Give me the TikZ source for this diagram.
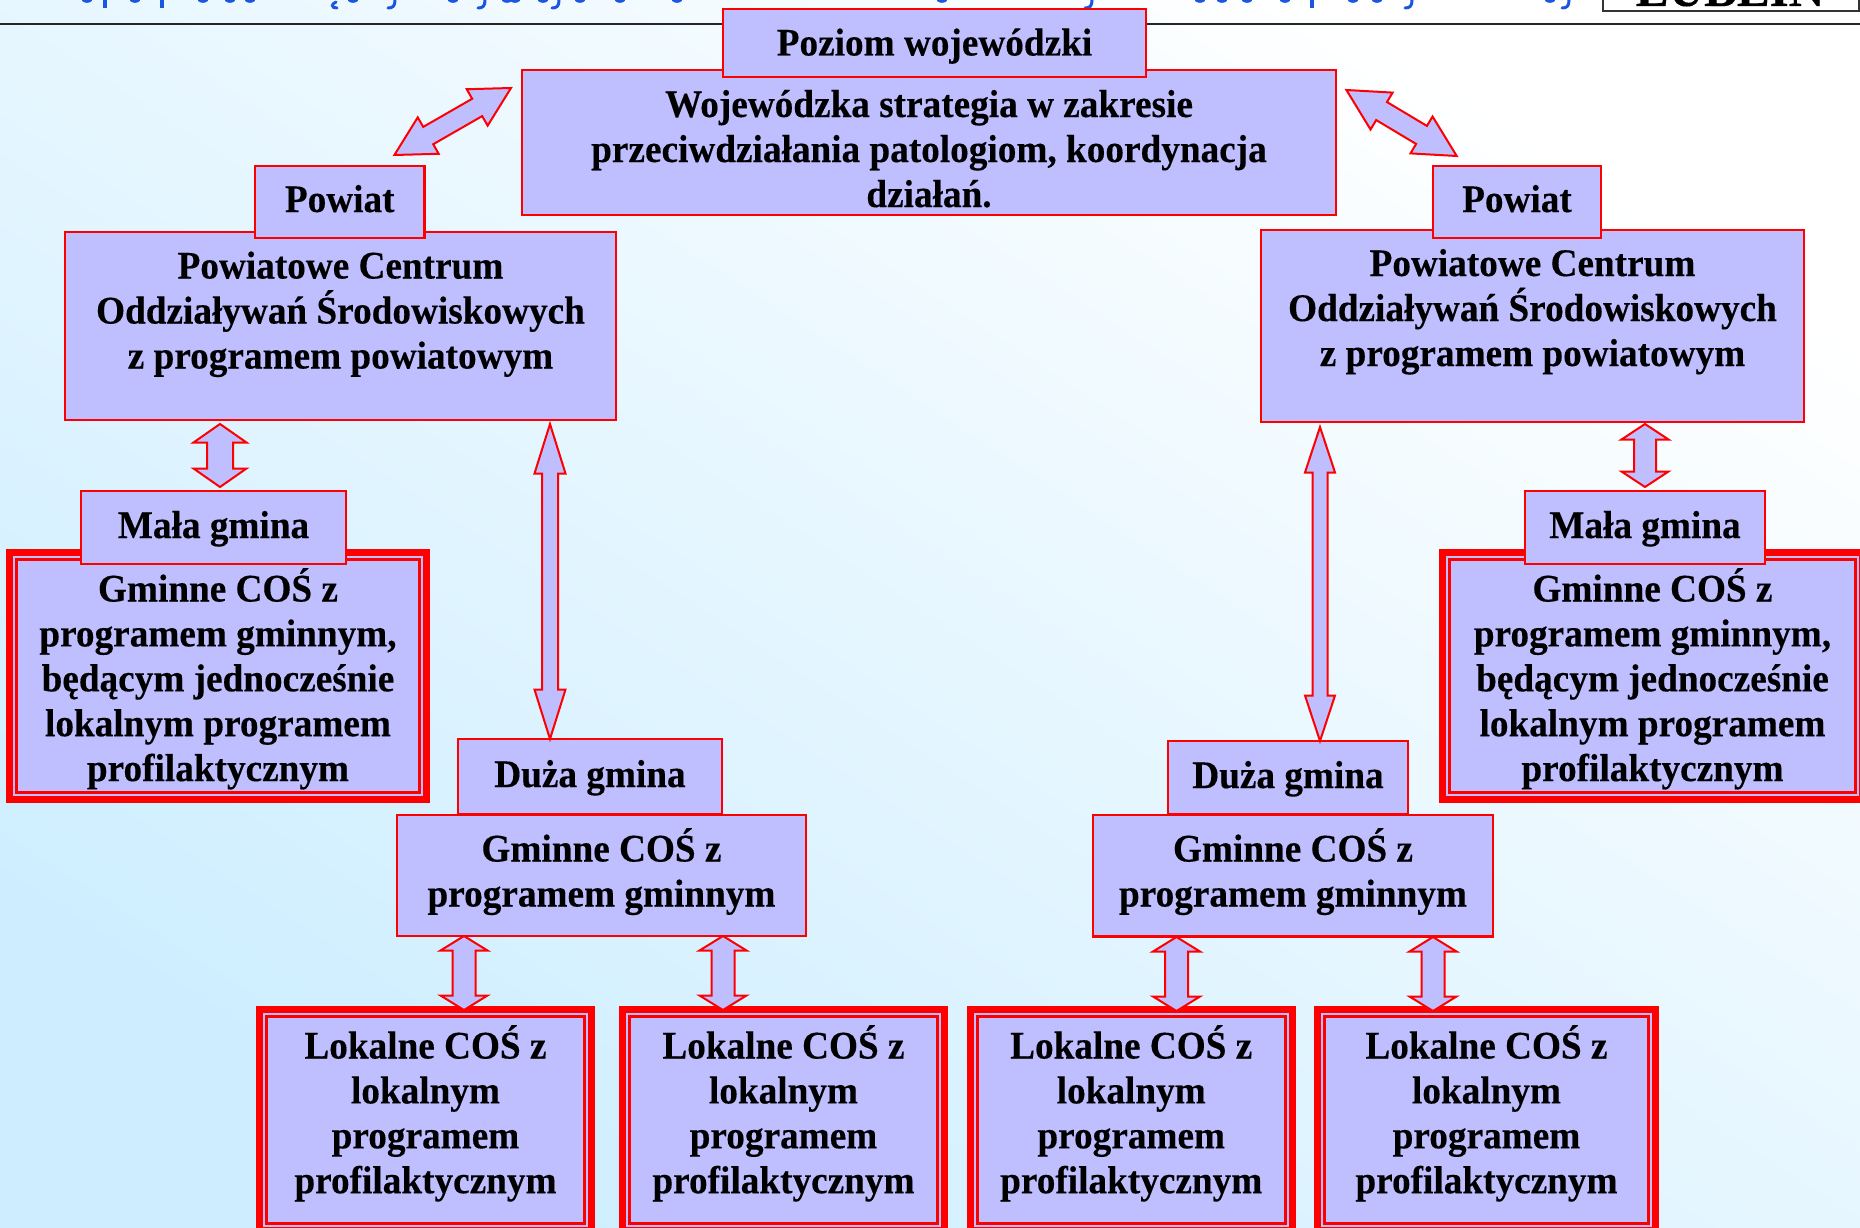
\documentclass[tikz,border=0pt]{standalone}
\usepackage{fontspec}
\setmainfont[FakeStretch=0.955,BoldFeatures={FakeBold=0.25}]{Liberation Serif}
\usetikzlibrary{calc}
\definecolor{lav}{HTML}{BFBEFF}
\definecolor{bgblue}{HTML}{CEEEFF}
\definecolor{headblue}{HTML}{1A56E0}
\tikzset{
  plainbox/.style={draw=red,fill=lav,line width=2.4pt,inner sep=0pt,outer sep=0pt},
  thickbox/.style={draw=red,fill=lav,line width=7pt,inner sep=0pt,outer sep=0pt},
  thinframe/.style={draw=red,line width=2.6pt},
  blockarr/.style={draw=red,fill=lav,line width=2pt,line join=miter},
  descender/.style={draw=headblue,line width=2.6pt,line cap=round},
  stemline/.style={draw=headblue,line width=3.6pt},
  hook/.style={draw=headblue,line width=3pt,line cap=round}
}
% name, x1, y1, x2, y2, first baseline, text
\newcommand\tbox[7]{%
  \pgfmathsetmacro{\bw}{#4-#2}\pgfmathsetmacro{\bh}{#5-#3}\pgfmathsetmacro{\bd}{#6-#3}%
  \node[plainbox,minimum width=\bw pt,minimum height=\bh pt] (#1) at ({(#2+#4)/2},{(#3+#5)/2})
    {\parbox[c][\bh pt][t]{\bw pt}{\fontsize{39}{45}\selectfont\bfseries\lineskiplimit=-100pt\centering\rule{0pt}{\bd pt}#7}};}
% name, outer x1, y1, x2, y2, first baseline, text
\newcommand\dbox[7]{%
  \pgfmathsetmacro{\bw}{#4-#2-7}\pgfmathsetmacro{\bh}{#5-#3-7}\pgfmathsetmacro{\bd}{#6-#3-3.5}%
  \node[thickbox,minimum width=\bw pt,minimum height=\bh pt] (#1) at ({(#2+#4)/2},{(#3+#5)/2})
    {\parbox[c][\bh pt][t]{\bw pt}{\fontsize{39}{44.9}\selectfont\bfseries\lineskiplimit=-100pt\centering\rule{0pt}{\bd pt}#7}};
  \draw[thinframe] ([xshift=7.2pt,yshift=-7.2pt]#1.north west) rectangle ([xshift=-7.2pt,yshift=7.2pt]#1.south east);}
% from, to, head length, head half width, shaft half width
\newcommand\blockarrow[5]{%
  \draw[blockarr] (#1)
    -- ($($(#1)!#3pt!(#2)$)!#4pt!90:(#2)$)
    -- ($($(#1)!#3pt!(#2)$)!#5pt!90:(#2)$)
    -- ($($(#2)!#3pt!(#1)$)!-#5pt!90:(#1)$)
    -- ($($(#2)!#3pt!(#1)$)!-#4pt!90:(#1)$)
    -- (#2)
    -- ($($(#2)!#3pt!(#1)$)!#4pt!90:(#1)$)
    -- ($($(#2)!#3pt!(#1)$)!#5pt!90:(#1)$)
    -- ($($(#1)!#3pt!(#2)$)!-#5pt!90:(#2)$)
    -- ($($(#1)!#3pt!(#2)$)!-#4pt!90:(#2)$)
    -- cycle;}
\begin{document}
\begin{tikzpicture}[x=1pt,y=-1pt]
\useasboundingbox (0,0) rectangle (1860,1228);
\clip (0,0) rectangle (1860,1228);
% background
\shade[bottom color=bgblue,top color=white,shading angle=-33] (0,0) rectangle (1860,1228);
% cropped heading
\foreach \px in {87,135,203,230,250,353,453,507,515,543,580,620,677,942,1200,1222,1247,1285,1353,1377,1550}
  \draw[descender] (\px-4,0) .. controls (\px-2,2) and (\px+2,2) .. (\px+4,0);
\foreach \px in {105,162,1312}
  \draw[stemline] (\px,0) -- (\px,8);
\foreach \px in {393,483,557,1090,1410,1567}
  \draw[hook] (\px+2,0) .. controls (\px+2,6) and (\px,8) .. (\px-5,8);
\draw[hook] (336,2) .. controls (331,4) and (331,8) .. (337,8);
\draw[draw=black!85,line width=2.4pt] (0,24) -- (1860,24);
\node[draw=black!80,fill=white,line width=1.6pt,minimum width=256pt,minimum height=30pt,inner sep=0pt,outer sep=0pt] (lubbox) at (1731,-4) {};
\node[anchor=base,inner sep=0pt,font=\fontsize{51.5}{53}\selectfont\bfseries] (lublin) at (1730,6) {LUBLIN};
% top
\tbox{woj}{522}{70}{1336}{215}{117}{Wojewódzka strategia w zakresie\\przeciwdziałania patologiom, koordynacja\\działań.}
\tbox{poz}{723}{9}{1146}{77}{55.5}{Poziom wojewódzki}
% powiat
\tbox{pcl}{65}{232}{616}{420}{278.5}{Powiatowe Centrum\\Oddziaływań Środowiskowych\\z programem powiatowym}
\tbox{powl}{255}{166}{424.5}{238}{212}{Powiat}
\tbox{pcr}{1261}{230}{1804}{422}{276}{Powiatowe Centrum\\Oddziaływań Środowiskowych\\z programem powiatowym}
\tbox{powr}{1433}{166}{1601}{238}{212}{Powiat}
% small communes
\dbox{gml}{6}{549}{430}{803}{601.5}{Gminne COŚ z\\programem gminnym,\\będącym jednocześnie\\lokalnym programem\\profilaktycznym}
\tbox{mgl}{81}{491}{346}{564}{538}{Mała gmina}
\dbox{gmr}{1439}{549}{1866}{803}{601.5}{Gminne COŚ z\\programem gminnym,\\będącym jednocześnie\\lokalnym programem\\profilaktycznym}
\tbox{mgr}{1525}{491}{1765}{564}{538}{Mała gmina}
% big communes
\tbox{dgl}{458}{739}{722}{814}{787}{Duża gmina}
\tbox{ggl}{397}{815}{806}{936}{861.5}{Gminne COŚ z\\programem gminnym}
\tbox{dgr}{1168}{741}{1408}{814}{788}{Duża gmina}
\tbox{ggr}{1093}{815}{1493}{936.5}{861.5}{Gminne COŚ z\\programem gminnym}
% local
\dbox{la}{256}{1006}{595}{1234}{1058.5}{Lokalne COŚ z\\lokalnym\\programem\\profilaktycznym}
\dbox{lb}{619}{1006}{948}{1234}{1058.5}{Lokalne COŚ z\\lokalnym\\programem\\profilaktycznym}
\dbox{lc}{966.5}{1006}{1296}{1234}{1058.5}{Lokalne COŚ z\\lokalnym\\programem\\profilaktycznym}
\dbox{ld}{1314}{1006}{1659}{1234}{1058.5}{Lokalne COŚ z\\lokalnym\\programem\\profilaktycznym}
% connector ends
\coordinate (a1) at (394.4,155); \coordinate (a2) at (511,88);
\coordinate (b1) at (1346.4,90); \coordinate (b2) at (1456.7,156);
\coordinate (c1) at (220,424);   \coordinate (c2) at (220,487);
\coordinate (d1) at (550,424);   \coordinate (d2) at (550,739);
\coordinate (e1) at (1645,424);  \coordinate (e2) at (1645,487);
\coordinate (f1) at (1320,427);  \coordinate (f2) at (1320,741);
\coordinate (g1) at (464,936);   \coordinate (g2) at (464,1010);
\coordinate (h1) at (723,936);   \coordinate (h2) at (723,1010);
\coordinate (i1) at (1176.5,937);\coordinate (i2) at (1176.5,1011);
\coordinate (j1) at (1433,937);  \coordinate (j2) at (1433,1011);
\blockarrow{a1}{a2}{39}{21}{10}
\blockarrow{b1}{b2}{41}{21.5}{10.5}
\blockarrow{c1}{c2}{18.5}{26.5}{13}
\blockarrow{d1}{d2}{49.5}{15.5}{8}
\blockarrow{e1}{e2}{15.5}{23.5}{11}
\blockarrow{f1}{f2}{45.5}{15}{7.5}
\blockarrow{g1}{g2}{14.5}{23.5}{11.5}
\blockarrow{h1}{h2}{14.5}{23.5}{11.5}
\blockarrow{i1}{i2}{14.5}{23.5}{11.5}
\blockarrow{j1}{j2}{14.5}{23.5}{11.5}
\end{tikzpicture}
\end{document}
